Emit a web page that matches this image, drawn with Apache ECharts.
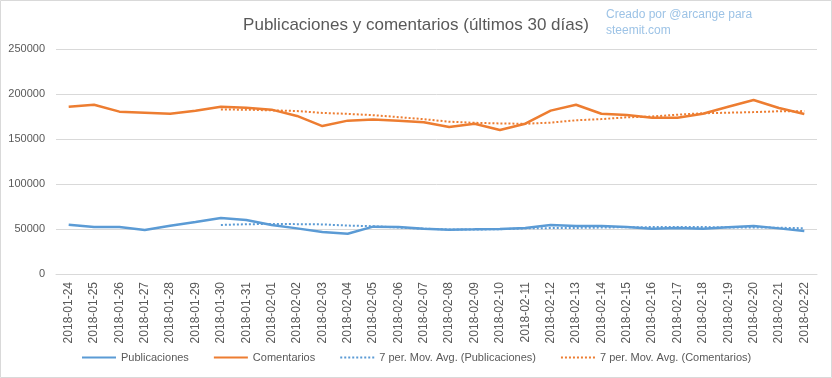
<!DOCTYPE html>
<html><head><meta charset="utf-8">
<script src="https://cdn.jsdelivr.net/npm/echarts@6/dist/echarts.min.js"></script>
<style>html,body{margin:0;padding:0;background:#fff}#c{width:832px;height:378px}</style>
</head><body><div id="c"></div>
<script>
const categories = ['2018-01-24','2018-01-25','2018-01-26','2018-01-27','2018-01-28','2018-01-29','2018-01-30','2018-01-31','2018-02-01','2018-02-02','2018-02-03','2018-02-04','2018-02-05','2018-02-06','2018-02-07','2018-02-08','2018-02-09','2018-02-10','2018-02-11','2018-02-12','2018-02-13','2018-02-14','2018-02-15','2018-02-16','2018-02-17','2018-02-18','2018-02-19','2018-02-20','2018-02-21','2018-02-22'];
const publicaciones = [54800,52200,52200,48900,53700,57800,62200,60000,54400,50700,46700,44800,52600,52200,50400,49300,49600,50000,51100,54400,53300,53300,52200,50400,51100,50400,51900,53300,50700,47800];
const comentarios = [185900,188100,180400,179300,178100,181500,185900,184800,182600,175600,164400,170400,171800,170400,168500,163300,167000,160000,167000,181500,188100,178100,176700,173700,173700,178100,185900,193300,184400,177800];
const maPublicaciones = [null,null,null,null,null,null,54500,55300,55600,55400,55100,53800,53100,51600,50300,49500,49400,49800,50700,51000,51200,51600,52000,52100,52300,52200,51800,51800,51400,50800];
const maComentarios = [null,null,null,null,null,null,182700,182600,181800,181100,179000,177900,176500,174300,172000,169200,168000,167300,166900,168200,170800,172100,174100,175000,177000,178600,179200,179900,180800,181000];
const yTicks = {min:0, max:250000, interval:50000};
const titleText = 'Publicaciones y comentarios (últimos 30 días)';
const noteText = 'Creado por @arcange para\nsteemit.com';
const seriesNames = ['Publicaciones','Comentarios','7 per. Mov. Avg. (Publicaciones)','7 per. Mov. Avg. (Comentarios)'];

const BLUE = '#5B9BD5', ORANGE = '#ED7D31', TXT = '#595959';
const FONT = '"Liberation Sans", Arial, sans-serif';
const chart = echarts.init(document.getElementById('c'), null, {renderer:'canvas'});
chart.setOption({
  animation:false,
  backgroundColor:'#fff',
  textStyle:{fontFamily:FONT},
  title:{text:titleText, left:'center', top:12, textStyle:{color:TXT, fontSize:17, fontWeight:'normal', fontFamily:FONT}},
  graphic:[
    {type:'text', left:606, top:7, style:{text:noteText, fill:'#9DC3E6', font:'12px "Liberation Sans", Arial, sans-serif', lineHeight:16}},
    {type:'rect', shape:{x:0.5,y:0.5,width:831,height:377}, style:{fill:null, stroke:'#D9D9D9', lineWidth:1}, silent:true}
  ],
  legend:{
    left:81, top:352, padding:0, itemWidth:34, itemHeight:10, itemGap:24,
    itemStyle:{opacity:0},
    textStyle:{color:TXT, fontSize:11, fontFamily:FONT},
    data:seriesNames
  },
  grid:{left:56, right:15, top:49, bottom:104, containLabel:false},
  xAxis:{
    type:'category', data:categories, boundaryGap:true,
    axisLine:{lineStyle:{color:'#D9D9D9'}}, axisTick:{show:false},
    axisLabel:{rotate:90, interval:0, color:TXT, fontSize:12, margin:8, fontFamily:FONT}
  },
  yAxis:{
    type:'value', min:yTicks.min, max:yTicks.max, interval:yTicks.interval,
    axisLine:{show:false}, axisTick:{show:false},
    splitLine:{lineStyle:{color:'#D9D9D9'}},
    axisLabel:{color:TXT, fontSize:11, margin:11, fontFamily:FONT, formatter:function(v){return String(v);}}
  },
  series:[
    {name:seriesNames[0], type:'line', data:publicaciones, symbol:'none', lineStyle:{color:BLUE, width:2.5}, itemStyle:{color:BLUE}, z:3},
    {name:seriesNames[1], type:'line', data:comentarios, symbol:'none', lineStyle:{color:ORANGE, width:2.5}, itemStyle:{color:ORANGE}, z:3},
    {name:seriesNames[2], type:'line', data:maPublicaciones, symbol:'none', lineStyle:{color:BLUE, width:2, type:[2,2]}, itemStyle:{color:BLUE}, z:4},
    {name:seriesNames[3], type:'line', data:maComentarios, symbol:'none', lineStyle:{color:ORANGE, width:2, type:[2,2]}, itemStyle:{color:ORANGE}, z:4}
  ]
});
</script></body></html>
